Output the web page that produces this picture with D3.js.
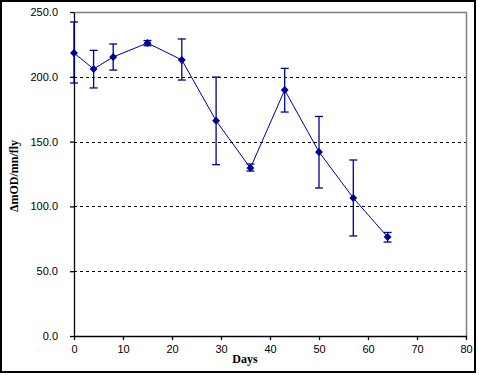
<!DOCTYPE html>
<html>
<head>
<meta charset="utf-8">
<script src="https://cdn.jsdelivr.net/npm/d3@7"></script>
<style>
  body { margin: 0; background: #fff; }
  .tick text { font-family: "Liberation Sans Narrow", "Arial Narrow", Arial, sans-serif; font-size: 11px; fill: #000; }
</style>
</head>
<body>
<div class="chart"></div>
<script>
// data
var days = [0, 4, 8, 15, 22, 29, 36, 43, 50, 57, 64];
var means = [218.4, 206.0, 215.3, 226.1, 213.0, 166.1, 129.6, 189.8, 142.0, 106.5, 76.4];
var errUp = [242.3, 220.4, 225.3, 228.0, 229.2, 199.8, 132.7, 206.5, 169.4, 135.8, 79.9];
var errDown = [195.2, 191.4, 205.2, 224.0, 197.5, 132.2, 127.3, 172.8, 114.2, 77.2, 72.5];
var yTicks = [0, 50, 100, 150, 200, 250];
var xTicks = [0, 10, 20, 30, 40, 50, 60, 70, 80];

var svgWidth = 479;
var svgHeight = 375;
var margin = { top: 12, right: 13, bottom: 39, left: 74 };
var width = 466 - margin.left;
var height = 336 - margin.top;

var svg = d3.select(".chart")
    .append("svg")
    .attr("width", svgWidth)
    .attr("height", svgHeight);

// outer frame
svg.append("rect")
    .attr("x", 1).attr("y", 1)
    .attr("width", 474).attr("height", 371)
    .attr("fill", "none")
    .attr("stroke", "#000")
    .attr("stroke-width", 2);

var chart = svg.append("g")
    .attr("transform", "translate(" + margin.left + "," + margin.top + ")");

var xScale = d3.scaleLinear().domain([0, 80]).range([0, width]);
var yScale = d3.scaleLinear().domain([0, 250]).range([height, 0]);

// dashed gridlines
chart.selectAll(".grid")
    .data(yTicks.filter(function(d) { return d > 0 && d < 250; }))
    .enter()
    .append("line")
    .attr("x1", 0).attr("x2", width)
    .attr("y1", function(d) { return Math.round(yScale(d)) + 0.5; })
    .attr("y2", function(d) { return Math.round(yScale(d)) + 0.5; })
    .attr("stroke", "#000")
    .attr("stroke-dasharray", "3,3");

// grey plot border top and right
chart.append("path")
    .attr("d", "M0.5," + 0.5 + "H" + (width + 0.5) + "V" + height)
    .attr("fill", "none")
    .attr("stroke", "#808080")
    .attr("stroke-width", 1.5);

var bottomAxis = d3.axisBottom(xScale).tickValues(xTicks).tickSize(4).tickSizeOuter(0)
    .tickFormat(d3.format("d"));
var leftAxis = d3.axisLeft(yScale).tickValues(yTicks).tickSize(4).tickSizeOuter(0)
    .tickFormat(d3.format(".1f"));

chart.append("g")
    .attr("transform", "translate(0," + height + ")")
    .call(bottomAxis)
    .call(function(g) { g.selectAll("path, line").attr("stroke", "#000").attr("stroke-width", 1.3); })
    .call(function(g) { g.selectAll("text").attr("dy", "0.9em"); });

chart.append("g")
    .call(leftAxis)
    .call(function(g) { g.selectAll("path, line").attr("stroke", "#000").attr("stroke-width", 1.3); })
    .call(function(g) { g.selectAll("text").attr("x", -16); });

var blue = "#000099";

// error bars
var bars = chart.selectAll(".err")
    .data(days)
    .enter()
    .append("g");

bars.append("line")
    .attr("x1", function(d) { return xScale(d); })
    .attr("x2", function(d) { return xScale(d); })
    .attr("y1", function(d, i) { return yScale(errUp[i]); })
    .attr("y2", function(d, i) { return yScale(errDown[i]); })
    .attr("stroke", blue).attr("stroke-width", 1.3);

[errUp, errDown].forEach(function(arr) {
    bars.append("line")
        .attr("x1", function(d) { return xScale(d) - 4; })
        .attr("x2", function(d) { return xScale(d) + 4; })
        .attr("y1", function(d, i) { return yScale(arr[i]); })
        .attr("y2", function(d, i) { return yScale(arr[i]); })
        .attr("stroke", blue).attr("stroke-width", 1.3);
});

// line
var line = d3.line()
    .x(function(d, i) { return xScale(days[i]); })
    .y(function(d) { return yScale(d); });

chart.append("path")
    .datum(means)
    .attr("d", line)
    .attr("fill", "none")
    .attr("stroke", blue)
    .attr("stroke-width", 1);

// diamond markers
chart.selectAll(".pt")
    .data(means)
    .enter()
    .append("path")
    .attr("transform", function(d, i) { return "translate(" + xScale(days[i]) + "," + yScale(d) + ")"; })
    .attr("d", d3.symbol().type(d3.symbolDiamond2).size(40))
    .attr("fill", blue);

// axis titles
svg.append("text")
    .attr("x", 245)
    .attr("y", 363)
    .attr("text-anchor", "middle")
    .attr("font-family", "'Liberation Serif', 'Times New Roman', serif")
    .attr("font-weight", "bold")
    .attr("font-size", "12px")
    .text("Days");

svg.append("text")
    .attr("transform", "translate(18,176) rotate(-90)")
    .attr("text-anchor", "middle")
    .attr("font-family", "'Liberation Serif', 'Times New Roman', serif")
    .attr("font-weight", "bold")
    .attr("font-size", "12px")
    .text("ΔmOD/mn/fly");
</script>
</body>
</html>
